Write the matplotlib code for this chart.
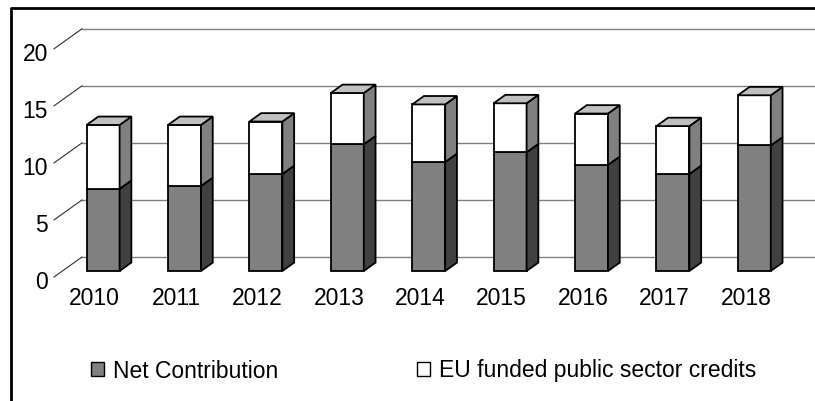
import numpy as np
import matplotlib
matplotlib.use("Agg")
import matplotlib.pyplot as plt
import matplotlib.transforms as mtransforms
from matplotlib.patches import Polygon, Patch
from matplotlib.lines import Line2D

plt.rcParams["font.family"] = ["Liberation Sans", "DejaVu Sans"]

years = ["2010", "2011", "2012", "2013", "2014", "2015", "2016", "2017", "2018"]
net_contribution = [7.2, 7.45, 8.5, 11.1, 9.55, 10.4, 9.3, 8.5, 11.0]
eu_credits = [5.6, 5.35, 4.6, 4.5, 5.05, 4.3, 4.5, 4.2, 4.4]
y_ticks = [0, 5, 10, 15, 20]

# oblique 3D look: full depth of the plot box in pixels (right, up)
DEPTH = np.array([28.0, 20.0])
BAR_FRONT, BAR_BACK = 0.30, 0.72
BAR_WIDTH = 0.405
FS = 16.5

fig = plt.figure(figsize=(8.15, 4.01), dpi=100)
W, H = 815, 401
ax = fig.add_axes([54 / W, (H - 277) / H, 761 / W, 228.2 / H])
ax.set_xlim(-0.5, -0.5 + 761 / 81.4)
ax.set_ylim(0, 20)
for s in ax.spines.values():
    s.set_visible(False)

inv = ax.transData.inverted()


def proj(x, v, d):
    """data point (x, v) pushed back by depth fraction d, in data coords"""
    px = ax.transData.transform((x, v)) + d * DEPTH
    return inv.transform(px)


# back wall gridlines and the slanted lines to the value labels
x0, x1 = ax.get_xlim()
for t in y_ticks:
    a, b = proj(x0, t, 1.0), proj(x1 + 1, t, 1.0)
    ax.plot([a[0], b[0]], [a[1], b[1]], color="#808080", lw=1.0,
            clip_on=False, zorder=1)
    f = proj(x0, t, 0.0)
    ax.plot([f[0], a[0]], [f[1], a[1]], color="#303030", lw=0.8,
            clip_on=False, zorder=1)


def draw_block(x, lo, hi, front, side, top=None):
    xl, xr = x - BAR_WIDTH / 2, x + BAR_WIDTH / 2
    faces = [
        ([proj(xl, lo, BAR_FRONT), proj(xr, lo, BAR_FRONT),
          proj(xr, hi, BAR_FRONT), proj(xl, hi, BAR_FRONT)], front),
        ([proj(xr, lo, BAR_FRONT), proj(xr, lo, BAR_BACK),
          proj(xr, hi, BAR_BACK), proj(xr, hi, BAR_FRONT)], side),
    ]
    if top is not None:
        faces.append(([proj(xl, hi, BAR_FRONT), proj(xr, hi, BAR_FRONT),
                       proj(xr, hi, BAR_BACK), proj(xl, hi, BAR_BACK)], top))
    for pts, c in faces:
        ax.add_patch(Polygon(pts, closed=True, facecolor=c, edgecolor="black",
                             lw=1.3, joinstyle="miter", clip_on=False, zorder=3))


for i, (n, e) in enumerate(zip(net_contribution, eu_credits)):
    draw_block(i, 0, n, "#808080", "#404040")
    draw_block(i, n, n + e, "#ffffff", "#808080", "#c0c0c0")

ax.set_yticks(y_ticks)
ax.set_yticklabels([str(t) for t in y_ticks])
ax.set_xticks(range(len(years)))
ax.set_xticklabels(years)
ax.tick_params(axis="y", length=0, pad=4.3, labelsize=FS)
ax.tick_params(axis="x", length=0, pad=7, labelsize=FS)

# value labels sit a little below their gridline ends
shift = mtransforms.ScaledTranslation(0, -3 / 100, fig.dpi_scale_trans)
for lab in ax.get_yticklabels():
    lab.set_transform(lab.get_transform() + shift)

handles = [Patch(facecolor="#808080", edgecolor="black", lw=1.0),
           Patch(facecolor="white", edgecolor="black", lw=1.0)]
fig.legend(handles, ["Net Contribution", "EU funded public sector credits"],
           ncol=2, loc="center left", bbox_to_anchor=(91 / W, 1 - 371 / H),
           frameon=False, fontsize=FS, handlelength=0.57, handleheight=0.57,
           handletextpad=0.39, columnspacing=6.05, borderpad=0, borderaxespad=0)

# chart area border (left and top edges)
fig.add_artist(Line2D([11 / W, 11 / W, 1], [0, 1 - 8 / H, 1 - 8 / H],
                      color="black", lw=2.0, transform=fig.transFigure))

fig.savefig("out.png", dpi=100)
